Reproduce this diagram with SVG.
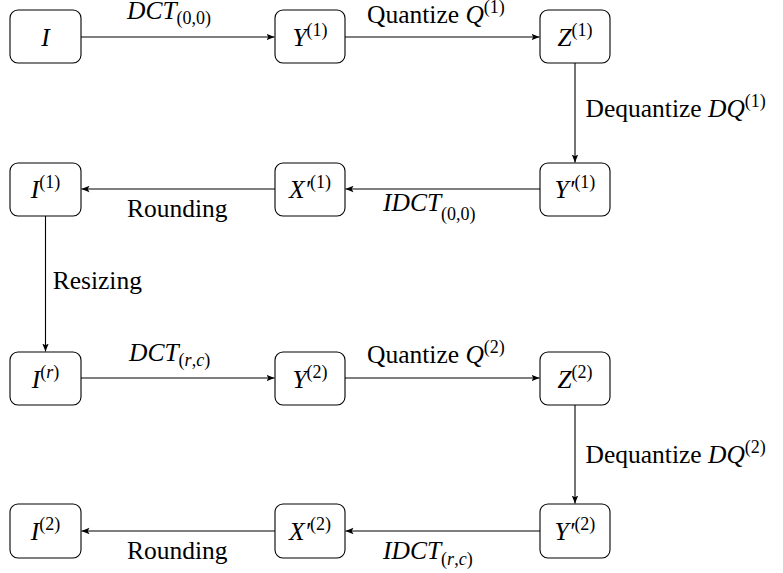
<svg xmlns="http://www.w3.org/2000/svg" width="783" height="573" viewBox="0 0 783 573" font-family="Liberation Serif, DejaVu Serif, serif">
<style>
.box{fill:#fff;stroke:#000;stroke-width:1.1}
.edge{fill:none;stroke:#000;stroke-width:1.1;marker-end:url(#ah)}
text{font-size:25.5px;fill:#000}
.m{font-style:italic}
.n{text-anchor:middle}
.s{font-size:18px;font-style:normal}
.si{font-size:18px;font-style:italic}
</style>
<defs>
<marker id="ah" markerWidth="10" markerHeight="8" refX="8" refY="4" orient="auto" markerUnits="userSpaceOnUse">
<path d="M0,0.8 L8,4 L0,7.2 L1.8,4 Z" fill="#000"/>
</marker>
</defs>
<g id="connectors">
<line class="edge" x1="81" y1="37" x2="274.5" y2="37"/>
<line class="edge" x1="345" y1="37" x2="539.5" y2="37"/>
<line class="edge" x1="575" y1="63" x2="575" y2="162.5"/>
<line class="edge" x1="540" y1="189" x2="345.5" y2="189"/>
<line class="edge" x1="275" y1="189" x2="81.5" y2="189"/>
<line class="edge" x1="45.5" y1="216" x2="45.5" y2="351.5"/>
<line class="edge" x1="81" y1="378" x2="274.5" y2="378"/>
<line class="edge" x1="345" y1="378" x2="539.5" y2="378"/>
<line class="edge" x1="575" y1="405" x2="575" y2="503.5"/>
<line class="edge" x1="540" y1="531" x2="345.5" y2="531"/>
<line class="edge" x1="275" y1="531" x2="81.5" y2="531"/>
</g>
<g id="edge-labels">
<text x="127" y="19" class="m">DCT<tspan class="s" dy="5">(0,0)</tspan></text>
<text x="367" y="23">Quantize <tspan class="m">Q</tspan><tspan class="s" dy="-10">(1)</tspan></text>
<text x="585.5" y="117">Dequantize <tspan class="m">DQ</tspan><tspan class="s" dy="-10">(1)</tspan></text>
<text x="127" y="216.7">Rounding</text>
<text x="383" y="211" class="m">IDCT<tspan class="s" dy="9">(0,0)</tspan></text>
<text x="52.7" y="289">Resizing</text>
<text x="129" y="361" class="m">DCT<tspan class="s" dy="5">(</tspan><tspan class="si">r</tspan><tspan class="s">,</tspan><tspan class="si">c</tspan><tspan class="s">)</tspan></text>
<text x="367" y="363">Quantize <tspan class="m">Q</tspan><tspan class="s" dy="-10">(2)</tspan></text>
<text x="585.5" y="463">Dequantize <tspan class="m">DQ</tspan><tspan class="s" dy="-10">(2)</tspan></text>
<text x="127" y="558.5">Rounding</text>
<text x="383" y="559" class="m">IDCT<tspan class="s" dy="6">(</tspan><tspan class="si">r</tspan><tspan class="s">,</tspan><tspan class="si">c</tspan><tspan class="s">)</tspan></text>
</g>
<g id="node-I"><rect class="box" x="10" y="10" width="71" height="53" rx="8"/><text x="45.5" y="46" class="m n">I</text></g>
<g id="node-Y1"><rect class="box" x="275" y="10" width="70" height="53" rx="8"/><text x="310" y="46" class="n"><tspan class="m">Y</tspan><tspan class="s" dy="-10">(1)</tspan></text></g>
<g id="node-Z1"><rect class="box" x="540" y="10" width="70" height="53" rx="8"/><text x="575" y="46" class="n"><tspan class="m">Z</tspan><tspan class="s" dy="-10">(1)</tspan></text></g>
<g id="node-I1"><rect class="box" x="10" y="163" width="71" height="53" rx="8"/><text x="45.5" y="198" class="n"><tspan class="m">I</tspan><tspan class="s" dy="-10">(1)</tspan></text></g>
<g id="node-X1p"><rect class="box" x="275" y="163" width="70" height="53" rx="8"/><text x="310" y="198" class="n"><tspan class="m">X′</tspan><tspan class="s" dy="-10">(1)</tspan></text></g>
<g id="node-Y1p"><rect class="box" x="540" y="163" width="70" height="53" rx="8"/><text x="575" y="198" class="n"><tspan class="m">Y′</tspan><tspan class="s" dy="-10">(1)</tspan></text></g>
<g id="node-Ir"><rect class="box" x="10" y="352" width="71" height="53" rx="8"/><text x="45.5" y="388" class="n"><tspan class="m">I</tspan><tspan class="s" dy="-10">(</tspan><tspan class="si">r</tspan><tspan class="s">)</tspan></text></g>
<g id="node-Y2"><rect class="box" x="275" y="352" width="70" height="53" rx="8"/><text x="310" y="388" class="n"><tspan class="m">Y</tspan><tspan class="s" dy="-10">(2)</tspan></text></g>
<g id="node-Z2"><rect class="box" x="540" y="352" width="70" height="53" rx="8"/><text x="575" y="388" class="n"><tspan class="m">Z</tspan><tspan class="s" dy="-10">(2)</tspan></text></g>
<g id="node-I2"><rect class="box" x="10" y="504" width="71" height="54" rx="8"/><text x="45.5" y="540" class="n"><tspan class="m">I</tspan><tspan class="s" dy="-10">(2)</tspan></text></g>
<g id="node-X2p"><rect class="box" x="275" y="504" width="70" height="54" rx="8"/><text x="310" y="540" class="n"><tspan class="m">X′</tspan><tspan class="s" dy="-10">(2)</tspan></text></g>
<g id="node-Y2p"><rect class="box" x="540" y="504" width="70" height="54" rx="8"/><text x="575" y="540" class="n"><tspan class="m">Y′</tspan><tspan class="s" dy="-10">(2)</tspan></text></g>
</svg>
